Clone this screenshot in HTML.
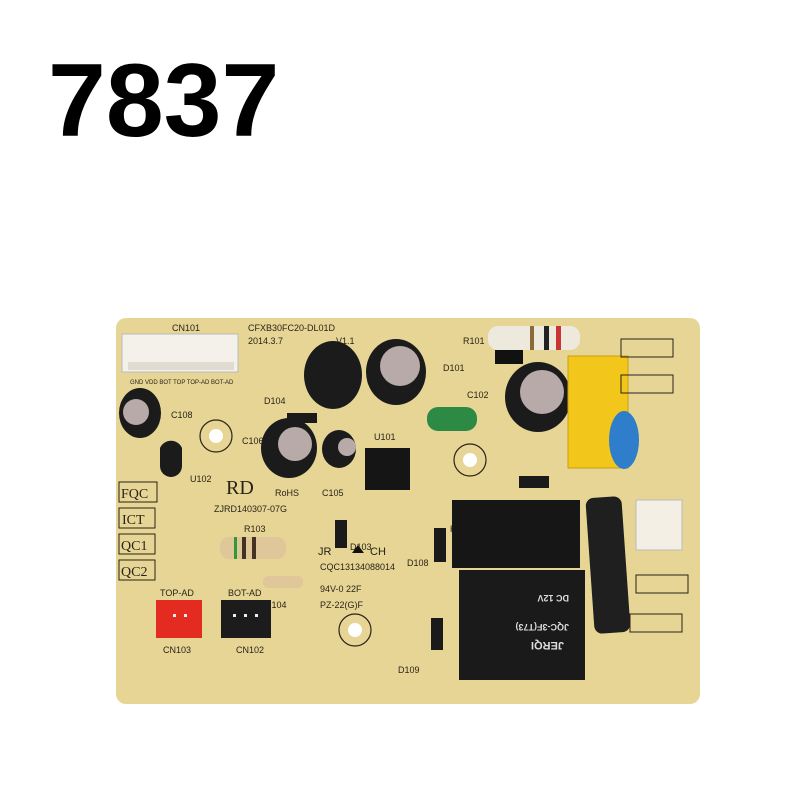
<!DOCTYPE html>
<html><head><style>
html,body{margin:0;padding:0;background:#fff;width:800px;height:800px;overflow:hidden}
</style></head><body>
<svg width="800" height="800" viewBox="0 0 800 800" xmlns="http://www.w3.org/2000/svg" font-family="Liberation Sans, sans-serif">
<rect width="800" height="800" fill="#fff"/>
<text x="48" y="136" font-size="104" font-weight="bold" fill="#000">7837</text>
<!-- board -->
<rect x="116" y="318" width="584" height="386" rx="10" fill="#e6d595"/>
<g fill="none" stroke="#2a2418" stroke-width="1.2">
<circle cx="216" cy="436" r="16"/><circle cx="470" cy="460" r="16"/><circle cx="355" cy="630" r="16"/>
</g>
<g fill="#fff"><circle cx="216" cy="436" r="7"/><circle cx="470" cy="460" r="7"/><circle cx="355" cy="630" r="7"/></g>
<g font-size="9" fill="#2a2418">
<text x="172" y="331">CN101</text>
<text x="248" y="331">CFXB30FC20-DL01D</text>
<text x="248" y="344">2014.3.7</text><text x="336" y="344">V1.1</text>
<text x="130" y="384" font-size="6">GND VDD BOT TOP TOP-AD BOT-AD</text>
<text x="171" y="418">C108</text><text x="242" y="444">C106</text><text x="264" y="404">D104</text>
<text x="190" y="482">U102</text><text x="322" y="496">C105</text><text x="374" y="440">U101</text>
<text x="463" y="344">R101</text><text x="443" y="371">D101</text><text x="467" y="398">C102</text>
<text x="436" y="415">L101</text><text x="520" y="486">D102</text><text x="592" y="460">ZNR101</text>
<text x="450" y="532">K101</text><text x="407" y="566">D108</text><text x="398" y="673">D109</text>
<text x="350" y="550">D103</text><text x="643" y="518">CN104</text>
<text x="244" y="532">R103</text><text x="265" y="608">R104</text>
<text x="160" y="596">TOP-AD</text><text x="228" y="596">BOT-AD</text>
<text x="163" y="653">CN103</text><text x="236" y="653">CN102</text>
<text x="214" y="512">ZJRD140307-07G</text>
<text x="320" y="570">CQC13134088014</text>
<text x="320" y="592">94V-0  22F</text>
<text x="320" y="608">PZ-22(G)F</text>
<text x="318" y="555" font-size="11">JR</text><text x="370" y="555" font-size="11">CH</text>
<text x="275" y="496">RoHS</text>
</g>
<polygon points="352,553 358,545 364,553" fill="#111"/>
<text x="226" y="494" font-size="20" font-family="Liberation Serif, serif" fill="#2a2418">RD</text>
<g font-family="Liberation Serif, serif" font-size="14" fill="#2a2418" stroke="#2a2418">
<rect x="119" y="482" width="38" height="20" fill="none"/><text x="121" y="498" stroke="none">FQC</text>
<rect x="119" y="508" width="36" height="20" fill="none"/><text x="122" y="524" stroke="none">ICT</text>
<rect x="119" y="534" width="36" height="20" fill="none"/><text x="121" y="550" stroke="none">QC1</text>
<rect x="119" y="560" width="36" height="20" fill="none"/><text x="121" y="576" stroke="none">QC2</text>
</g>
<!-- CN101 -->
<rect x="122" y="334" width="116" height="38" fill="#f4f1ea" stroke="#bbb"/>
<rect x="128" y="362" width="106" height="8" fill="#e0dcd2"/>
<!-- caps -->
<g fill="#1b1b1b">
<ellipse cx="140" cy="413" rx="21" ry="25"/>
<ellipse cx="333" cy="375" rx="29" ry="34"/>
<ellipse cx="396" cy="372" rx="30" ry="33"/>
<ellipse cx="538" cy="397" rx="33" ry="35"/>
<ellipse cx="289" cy="448" rx="28" ry="30"/>
<ellipse cx="339" cy="449" rx="17" ry="19"/>
<path d="M160 448 a12 12 0 0 1 22 0 v18 a10 10 0 0 1 -22 0z"/>
</g>
<g fill="#b7aaa8">
<circle cx="136" cy="412" r="13"/><circle cx="400" cy="366" r="20"/><circle cx="542" cy="392" r="22"/>
<circle cx="295" cy="444" r="17"/><circle cx="347" cy="447" r="9"/>
</g>
<!-- IC -->
<rect x="365" y="448" width="45" height="42" fill="#151515"/>
<!-- green inductor -->
<rect x="427" y="407" width="50" height="24" rx="11" fill="#2d8a45"/>
<!-- R101 -->
<rect x="488" y="326" width="92" height="24" rx="10" fill="#eee9dd"/>
<rect x="530" y="326" width="4" height="24" fill="#8a6a3a"/><rect x="544" y="326" width="5" height="24" fill="#222"/><rect x="556" y="326" width="5" height="24" fill="#c33"/>
<rect x="495" y="350" width="28" height="14" fill="#111"/>
<!-- yellow cap -->
<rect x="568" y="356" width="60" height="112" fill="#f3c61b" stroke="#c9a010"/>
<ellipse cx="624" cy="440" rx="15" ry="29" fill="#2f7ecb"/>
<!-- terminals -->
<g fill="none" stroke="#2a2418"><rect x="621" y="339" width="52" height="18"/><rect x="621" y="375" width="52" height="18"/><rect x="636" y="575" width="52" height="18"/><rect x="630" y="614" width="52" height="18"/></g>
<!-- CN104 -->
<rect x="636" y="500" width="46" height="50" fill="#f3efe4" stroke="#bbb"/>
<!-- diodes -->
<g fill="#1a1a1a"><rect x="519" y="476" width="30" height="12"/><rect x="335" y="520" width="12" height="28"/><rect x="434" y="528" width="12" height="34"/><rect x="431" y="618" width="12" height="32"/><rect x="287" y="413" width="30" height="10"/></g>
<!-- black resistor -->
<rect x="590" y="497" width="36" height="136" rx="8" fill="#1f1f1f" transform="rotate(-4 608 565)"/>
<!-- relays -->
<rect x="452" y="500" width="128" height="68" fill="#161616"/>
<rect x="459" y="570" width="126" height="110" fill="#1a1a1a"/>
<g fill="#ddd" font-size="11" font-weight="bold" transform="rotate(180 522 625)"><text x="480" y="608">JERQI</text><text x="475" y="626" font-size="9">JQC-3F(T73)</text><text x="475" y="655" font-size="9">DC 12V</text></g>
<!-- R103 R104 -->
<rect x="220" y="537" width="66" height="22" rx="9" fill="#e0c79a"/>
<rect x="234" y="537" width="3" height="22" fill="#393"/><rect x="242" y="537" width="4" height="22" fill="#432"/><rect x="252" y="537" width="4" height="22" fill="#432"/>
<rect x="263" y="576" width="40" height="12" rx="5" fill="#e0c79a"/>
<!-- connectors -->
<rect x="156" y="600" width="46" height="38" fill="#e32b22"/>
<rect x="221" y="600" width="50" height="38" fill="#1c1c1c"/>
<g fill="#eee"><rect x="173" y="614" width="3" height="3"/><rect x="184" y="614" width="3" height="3"/><rect x="233" y="614" width="3" height="3"/><rect x="244" y="614" width="3" height="3"/><rect x="255" y="614" width="3" height="3"/></g>
</svg>
</body></html>
